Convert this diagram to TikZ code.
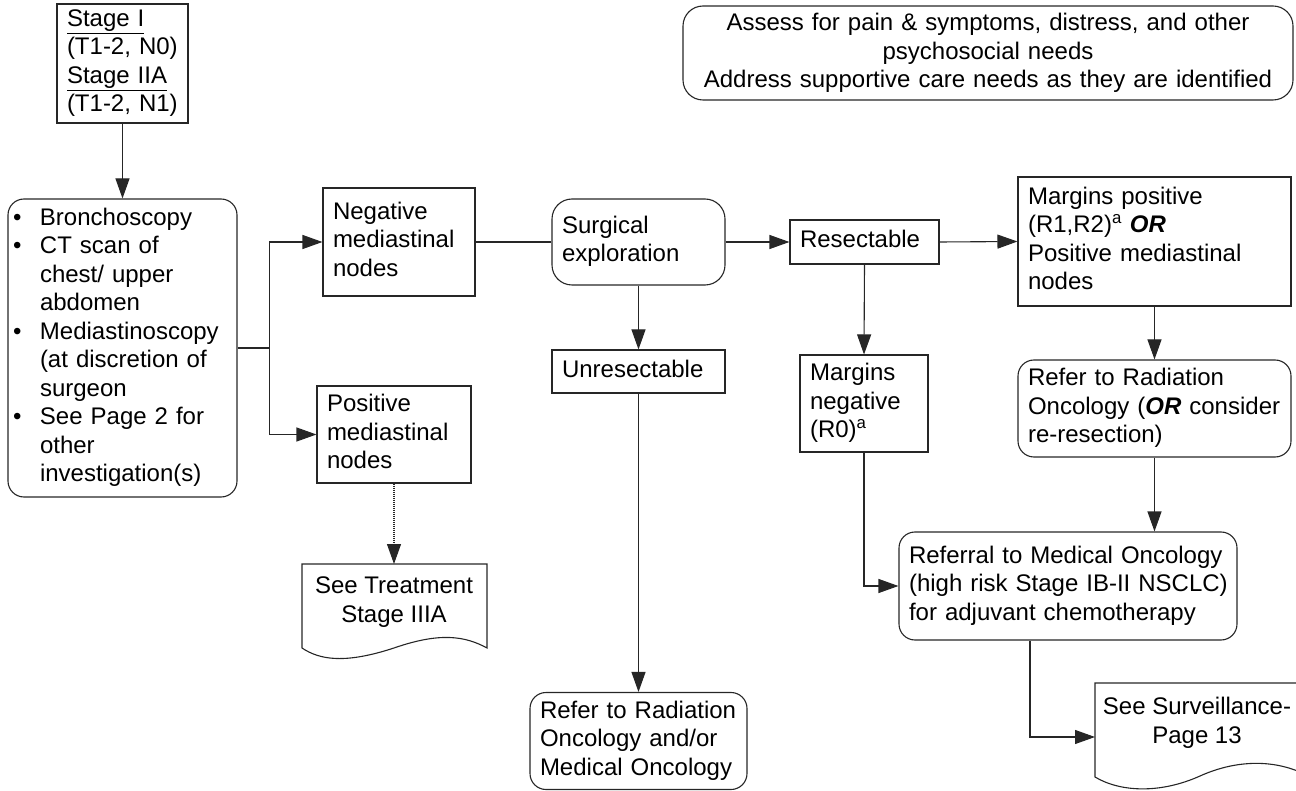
\documentclass[tikz,border=0pt]{standalone}
\usepackage{fontspec}
\setmainfont{Liberation Sans}
\usetikzlibrary{arrows.meta,calc}
% left-aligned block of lines that never re-wraps
\newcommand{\boxlines}[1]{\begin{tabular}{@{}l@{}}#1\end{tabular}}
\begin{document}
\begin{tikzpicture}[x=1pt,y=-1pt,
  every node/.style={font=\fontsize{24}{28.5}\selectfont, text=black},
  conn/.style={draw=black!85, line width=1.1pt},
  arr/.style={conn, -{Triangle[length=20pt,width=14pt]}},
  dotarr/.style={arr, dash pattern=on 1pt off 1pt},
  sqbox/.style={conn, rectangle, align=left, inner xsep=10pt, inner ysep=0pt},
  rndbox/.style={sqbox, rounded corners=16pt},
  doctext/.style={align=center, inner sep=0pt},
]
\useasboundingbox (0,0) rectangle (1296,791);
\clip (0,0) rectangle (1296,791);

% supportive care note
\node[rndbox, align=center, rounded corners=20pt, text width=590pt, minimum height=94pt] (assess) at (988,53)
  {Assess for pain \& symptoms, distress, and other\\psychosocial needs\\Address supportive care needs as they are identified};

% staging and work-up
\node[sqbox, text width=111pt, minimum height=119pt] (stage) at (122.5,63.5)
  {\boxlines{\underline{Stage I}\\(T1-2, N0)\\\underline{Stage IIA}\\(T1-2, N1)}};
\node[rndbox, inner xsep=5pt, text width=219pt, minimum height=298pt] (bron) at (122.5,348)
  {\boxlines{\makebox[27pt][l]{\textbullet}Bronchoscopy\\
   \makebox[27pt][l]{\textbullet}CT scan of\\
   \hspace*{27pt}chest/ upper\\
   \hspace*{27pt}abdomen\\
   \makebox[27pt][l]{\textbullet}Mediastinoscopy\\
   \hspace*{27pt}(at discretion of\\
   \hspace*{27pt}surgeon\\
   \makebox[27pt][l]{\textbullet}See Page 2 for\\
   \hspace*{27pt}other\\
   \hspace*{27pt}investigation(s)}};

% mediastinal node status
\node[sqbox, text width=132pt, minimum height=108pt] (neg) at (399,242)
  {\boxlines{Negative\\mediastinal\\nodes}};
\node[sqbox, text width=134pt, minimum height=97pt] (pos) at (394,434.5)
  {\boxlines{Positive\\mediastinal\\nodes}};

% surgery branch
\node[rndbox, rounded corners=20pt, text width=153pt, minimum height=86pt] (surg) at (638.5,242)
  {\boxlines{Surgical\\exploration}};
\node[sqbox, text width=153pt, minimum height=43pt] (unres) at (638.5,371.5)
  {\boxlines{Unresectable}};
\node[rndbox, text width=197pt, minimum height=97pt] (radmed) at (638.5,741)
  {\boxlines{Refer to Radiation\\Oncology and/or\\Medical Oncology}};
\node[sqbox, text width=129pt, minimum height=44pt] (resec) at (864.5,242)
  {\boxlines{Resectable}};
\node[sqbox, text width=108pt, minimum height=97pt] (mneg) at (864,403.5)
  {\boxlines{Margins\\negative\\(R0)\textsuperscript{a}}};
\node[sqbox, text width=253pt, minimum height=129pt] (mpos) at (1154.5,241.5)
  {\boxlines{Margins positive\\(R1,R2)\textsuperscript{a} \textbf{\textit{OR}}\\Positive mediastinal\\nodes}};
\node[rndbox, text width=253pt, minimum height=97pt] (refrad) at (1154.5,408.5)
  {\boxlines{Refer to Radiation\\Oncology (\textbf{\textit{OR}} consider\\re-resection)}};
\node[rndbox, text width=318pt, minimum height=108pt] (refmed) at (1068,586)
  {\boxlines{Referral to Medical Oncology\\(high risk Stage IB-II NSCLC)\\for adjuvant chemotherapy}};

% off-page references (document shapes)
\node[doctext] (treat) at (394,602) {See Treatment\\Stage IIIA};
\draw[conn] (302,648) -- (302,564) -- (487,564) -- (487,648)
  .. controls (465,636) and (440,632) .. (394,648)
  .. controls (345,664) and (320,660) .. (302,648) -- cycle;
\coordinate (treattop) at (394,564);

\node[doctext] (surv) at (1197,723) {See Surveillance-\\Page 13};
\draw[conn] (1095,777) -- (1095,683) -- (1310,683) -- (1310,777)
  .. controls (1280,760) and (1240,758) .. (1200,776)
  .. controls (1160,794) and (1120,792) .. (1095,777) -- cycle;
\coordinate (survin) at (1095,737);

% connectors
\draw[arr] (stage.south) -- (bron.north);
\draw[conn] (bron.east) -- ++(32,0) coordinate (fork);
\draw[arr] (fork) |- (neg.west);
\draw[arr] (fork) |- (pos.west);
\draw[dotarr] (pos.south) -- (treattop);
\draw[conn] (neg.east) -- (surg.west);
\draw[arr] (surg.east) -- (resec.west);
\draw[arr] (surg.south) -- (unres.north);
\draw[arr] (unres.south) -- (radmed.north);
\draw[arr] (resec.east) -- (mpos.west);
\draw[arr] (resec.south) -- (mneg.north);
\draw[arr] (mneg.south) |- (refmed.west);
\draw[arr] (mpos.south) -- (refrad.north);
\draw[arr] (refrad.south) -- (refrad.south |- refmed.north);
\draw[arr] ($(refmed.south)+(-38,0)$) |- (survin);
\end{tikzpicture}
\end{document}
